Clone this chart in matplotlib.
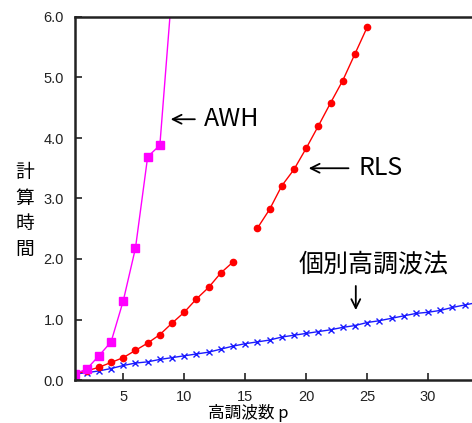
import matplotlib
matplotlib.use("Agg")
import matplotlib.pyplot as plt

plt.rcParams['font.family'] = ['Liberation Sans', 'Noto Sans CJK JP', 'DejaVu Sans']

# Data
awh_x = [1, 2, 3, 4, 5, 6, 7, 8, 9]
awh_y = [0.10, 0.18, 0.40, 0.63, 1.31, 2.18, 3.69, 3.88, 6.45]

rls1_x = list(range(1, 15))
rls1_y = [0.10, 0.15, 0.21, 0.29, 0.37, 0.49, 0.61, 0.75, 0.94, 1.12, 1.34, 1.53, 1.77, 1.95]

rls2_x = list(range(16, 26))
rls2_y = [2.51, 2.82, 3.21, 3.48, 3.83, 4.20, 4.58, 4.95, 5.39, 5.83]

ind_x = list(range(1, 35))
ind_y = [0.10, 0.12, 0.15, 0.19, 0.24, 0.28, 0.30, 0.34, 0.37, 0.40, 0.43, 0.46, 0.51, 0.56,
         0.60, 0.63, 0.66, 0.71, 0.74, 0.77, 0.80, 0.83, 0.87, 0.90, 0.95, 0.98, 1.02, 1.06,
         1.10, 1.12, 1.15, 1.20, 1.24, 1.28]

xticks = [5, 10, 15, 20, 25, 30]
yticks = [0, 1, 2, 3, 4, 5, 6]

W, H = 472, 423
fig = plt.figure(figsize=(W / 100, H / 100), dpi=100)
ax = fig.add_axes([74.5 / W, 1 - 380 / H, 1 - 74.5 / W, (380 - 17) / H])

ax.plot(ind_x, ind_y, color='#1a1aff', lw=1.0, marker='x', ms=5, mew=1.0)
ax.plot(rls1_x, rls1_y, color='#ff0000', lw=1.0, marker='o', ms=4.5)
ax.plot(rls2_x, rls2_y, color='#ff0000', lw=1.0, marker='o', ms=4.5)
ax.plot(awh_x, awh_y, color='#ff00ff', lw=1.0, marker='s', ms=6)

ax.set_xlim(1, 33.6)
ax.set_ylim(0, 6.0)
ax.set_xticks(xticks)
ax.set_yticks(yticks)
ax.set_yticklabels([f"{v:.1f}" for v in yticks])
ax.tick_params(direction='in', length=5, width=1.2, labelsize=10.5, colors='#222222')
ax.tick_params(axis='y', pad=7.5)
ax.tick_params(axis='x', pad=7)
for s in ['left', 'bottom', 'top']:
    ax.spines[s].set_linewidth(1.8)
    ax.spines[s].set_color('#222222')
ax.spines['right'].set_visible(False)

cjk = ['Noto Sans CJK JP', 'DejaVu Sans']
fig.text(248 / W, 1 - 413 / H, '高調波数 p', fontsize=12, family=cjk, ha='center', va='center')
fig.text(25 / W, 1 - 211 / H, '計\n算\n時\n間', fontsize=13.5, family=cjk,
         ha='center', va='center', linespacing=1.28)

arrow = dict(arrowstyle='->', color='black', lw=1.3, mutation_scale=16)
ax.annotate('', xy=(8.66, 4.31), xytext=(11.1, 4.31), arrowprops=arrow)
ax.text(11.6, 4.31, 'AWH', fontsize=18, family=cjk, va='center', ha='left')
ax.annotate('', xy=(19.98, 3.50), xytext=(23.7, 3.50), arrowprops=arrow)
ax.text(24.26, 3.50, 'RLS', fontsize=18, family=cjk, va='center', ha='left')
ax.annotate('', xy=(24.07, 1.11), xytext=(24.07, 1.60), arrowprops=arrow)
ax.text(25.55, 1.90, '個別高調波法', fontsize=18, family=cjk, va='center', ha='center')

fig.savefig('out.png', dpi=100)
